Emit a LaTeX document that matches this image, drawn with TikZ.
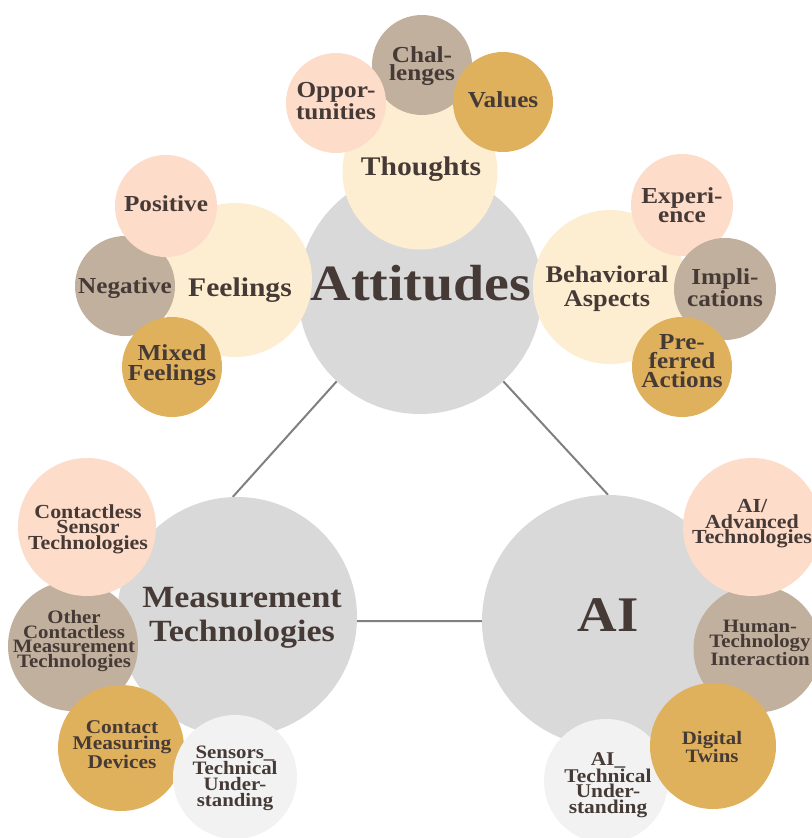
\documentclass[tikz,border=0pt]{standalone}
\usepackage{fontspec}
\setmainfont{Liberation Serif}[FakeStretch=1.1]
\definecolor{coreGray}{HTML}{D9D9D9}
\definecolor{cream}{HTML}{FDEED1}
\definecolor{peach}{HTML}{FEDCCA}
\definecolor{taupe}{HTML}{C1B09D}
\definecolor{gold}{HTML}{E0B15D}
\definecolor{paleGray}{HTML}{F2F2F2}
\definecolor{ink}{HTML}{463A36}
\definecolor{linkGray}{HTML}{808080}
\pgfdeclarelayer{paper}
\pgfdeclarelayer{links}
\pgfsetlayers{paper,links,main}
\tikzset{
  bub/.style={circle, inner sep=0pt, draw=none, minimum size=#1 bp},
  lbl/.style={text=ink, align=center, inner sep=0pt},
  fs/.style 2 args={font=\fontsize{#1}{#2}\selectfont\bfseries},
  link/.style={draw=linkGray, line width=2bp}
}
\begin{document}
\begin{tikzpicture}[x=1bp, y=-1bp]
  \begin{pgfonlayer}{paper}
    \fill[white] (0,0) rectangle (812,838);
  \end{pgfonlayer}
  \useasboundingbox (0,0) rectangle (812,838);
  \clip (0,0) rectangle (812,838);

  % main topic circles
  \node[bub=244, fill=coreGray] (att)  at (420,292) {};
  \node[bub=240, fill=coreGray] (meas) at (237,617) {};
  \node[bub=252, fill=coreGray] (ai)   at (608,621) {};

  % connectors between the main topics
  \begin{pgfonlayer}{links}
    \draw[link] (att.227) -- (meas.92);
    \draw[link] (att.313) -- (ai.90);
    \draw[link] (meas.-2) -- (ai.west);
  \end{pgfonlayer}

  % Attitudes: second level
  \node[bub=155, fill=cream] (thoC) at (420,172) {};
  \node[bub=154, fill=cream] (felC) at (235,280) {};
  \node[bub=154, fill=cream] (behC) at (610,287) {};

  % Thoughts
  \node[bub=100, fill=taupe] (chal) at (422,65) {};
  \node[bub=100, fill=peach] (opp)  at (336,103) {};
  \node[bub=100, fill=gold]  (val)  at (503,102) {};
  % Feelings
  \node[bub=100, fill=taupe] (neg) at (125,286) {};
  \node[bub=102, fill=peach] (pos) at (166,206) {};
  \node[bub=100, fill=gold]  (mix) at (172,367) {};
  % Behavioral aspects
  \node[bub=102, fill=peach] (exp)  at (682,205) {};
  \node[bub=102, fill=taupe] (imp)  at (725,289) {};
  \node[bub=100, fill=gold]  (pref) at (682,367) {};

  % Measurement technologies
  \node[bub=130, fill=taupe]    (oct) at (73,646) {};
  \node[bub=138, fill=peach]    (cst) at (87,527) {};
  \node[bub=126, fill=gold]     (cmd) at (121,748) {};
  \node[bub=124, fill=paleGray] (stu) at (235,777) {};

  % AI
  \node[bub=124, fill=paleGray] (atu) at (606,781) {};
  \node[bub=127, fill=taupe]    (hti) at (757,649) {};
  \node[bub=138, fill=peach]    (aat) at (752,527) {};
  \node[bub=126, fill=gold]     (dtw) at (713,746) {};

  % labels
  \node[lbl, fs={51}{51}] (attT) at (421,283) {Attitudes};
  \node[lbl, fs={50}{50}] (aiT)  at (608,615) {AI};
  \node[lbl, fs={31}{34}] (measT) at (242,618) {Measurement\\Technologies};
  \node[lbl, fs={27}{27}] (thoT) at (421,169) {Thoughts};
  \node[lbl, fs={27}{27}] (felT) at (240,290) {Feelings};
  \node[lbl, fs={24}{24}] (behT) at (607,289) {Behavioral\\Aspects};

  \node[lbl, fs={23}{18}]   (oppT)  at (336,101) {Oppor-\\tunities};
  \node[lbl, fs={23}{18}]   (chalT) at (422,66)  {Chal-\\lenges};
  \node[lbl, fs={23}{18}]   (valT)  at (503,100) {Values};
  \node[lbl, fs={23}{18}]   (posT)  at (166,204) {Positive};
  \node[lbl, fs={23}{18}]   (negT)  at (125,288) {Negative};
  \node[lbl, fs={23}{19.5}] (mixT)  at (172,365) {Mixed\\Feelings};
  \node[lbl, fs={23}{19}]   (expT)  at (682,205) {Experi-\\ence};
  \node[lbl, fs={23}{18.5}] (impT)  at (725,288) {Impli-\\cations};
  \node[lbl, fs={23}{19}]   (prefT) at (682,361) {Pre-\\ferred\\Actions};

  \node[lbl, fs={20}{15.5}] (cstT) at (88,529)  {Contactless\\Sensor\\Technologies};
  \node[lbl, fs={19}{15}]   (octT) at (74,641)  {Other\\Contactless\\Measurement\\Technologies};
  \node[lbl, fs={19.5}{16}] (cmdT) at (122,745) {Contact\\Measuring\\Devices};
  \node[lbl, fs={19}{16}]   (stuT) at (235,778) {Sensors\_\\Technical\\Under-\\standing};

  \node[lbl, fs={20}{15.5}] (aatT) at (752,524) {AI/\\Advanced\\Technologies};
  \node[lbl, fs={19}{15.5}] (htiT) at (760,643) {Human-\\Technology\\Interaction};
  \node[lbl, fs={19}{17}]   (dtwT) at (712,747) {Digital\\Twins};
  \node[lbl, fs={19.5}{15.5}] (atuT) at (608,785) {AI\_\\Technical\\Under-\\standing};
\end{tikzpicture}
\end{document}
